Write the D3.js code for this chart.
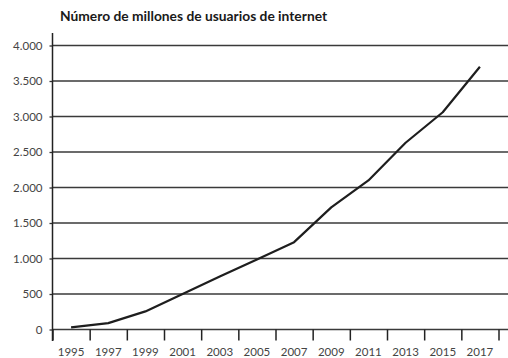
<!DOCTYPE html>
<html>
<head>
<meta charset="utf-8">
<script src="https://cdn.jsdelivr.net/npm/d3@7"></script>
<style>
  html, body { margin: 0; padding: 0; background: #fff; }
  svg { display: block; }
</style>
</head>
<body>
<script>
// Internet users worldwide, millions
const years = [1995, 1997, 1999, 2001, 2003, 2005, 2007, 2009, 2011, 2013, 2015, 2017];
const users = [30, 90, 255, 500, 745, 985, 1230, 1720, 2100, 2630, 3060, 3700];
const yTicks = [0, 500, 1000, 1500, 2000, 2500, 3000, 3500, 4000];
const xBoundaries = [1994, 1996, 1998, 2000, 2002, 2004, 2006, 2008, 2010, 2012, 2014, 2016, 2018];
const xLabels = years;
const title = "Número de millones de usuarios de internet";

const W = 508, H = 358;
const svg = d3.select("body").append("svg").attr("width", W).attr("height", H);

const x = d3.scaleLinear().domain([1994, 2018]).range([52.5, 498.5]);
const y = d3.scaleLinear().domain([0, 4000]).range([329.5, 45.5]);

const fmt = d3.formatLocale({ decimal: ",", thousands: ".", grouping: [3], currency: ["", ""] }).format(",d");
const font = "Lato, 'Open Sans', sans-serif";

// title
svg.append("text")
  .attr("x", 60).attr("y", 21)
  .attr("font-family", font).attr("font-weight", "bold").attr("font-size", 13.8)
  .attr("fill", "#1a1a1a")
  .text(title);

// horizontal gridlines
svg.append("g").selectAll("line").data(yTicks).join("line")
  .attr("x1", x.range()[0]).attr("x2", W)
  .attr("y1", d => y(d)).attr("y2", d => y(d))
  .attr("stroke", "#3a3a3a").attr("stroke-width", 1.3);

// y axis
const yAxis = svg.append("g").attr("transform", `translate(${x.range()[0]},0)`)
  .call(d3.axisLeft(y).tickValues(yTicks).tickSize(3).tickPadding(7).tickFormat(d => fmt(d)));
yAxis.select(".domain").remove();
yAxis.selectAll(".tick line").attr("stroke", "#333").attr("stroke-width", 1.3);
yAxis.selectAll(".tick text").attr("font-family", font).attr("font-size", 11.5).attr("fill", "#444");

svg.append("line")
  .attr("x1", x.range()[0]).attr("x2", x.range()[0])
  .attr("y1", 33).attr("y2", 341)
  .attr("stroke", "#222").attr("stroke-width", 1.5);

// x axis: ticks on even-year boundaries, labels centred on odd years
const xAxis = svg.append("g").attr("transform", `translate(0,${y(0)})`)
  .call(d3.axisBottom(x).tickValues(xBoundaries).tickSize(11).tickFormat(""));
xAxis.select(".domain").remove();
xAxis.selectAll(".tick line").attr("stroke", "#222").attr("stroke-width", 1.5);

svg.append("g").selectAll("text").data(xLabels).join("text")
  .attr("x", d => x(d)).attr("y", 356)
  .attr("text-anchor", "middle")
  .attr("font-family", font).attr("font-size", 11.5).attr("fill", "#444")
  .text(d => d);

// data line
svg.append("path")
  .datum(years.map((yr, i) => [yr, users[i]]))
  .attr("fill", "none").attr("stroke", "#1e1e1e").attr("stroke-width", 2.2)
  .attr("stroke-linejoin", "round")
  .attr("d", d3.line().x(d => x(d[0])).y(d => y(d[1])));
</script>
</body>
</html>
